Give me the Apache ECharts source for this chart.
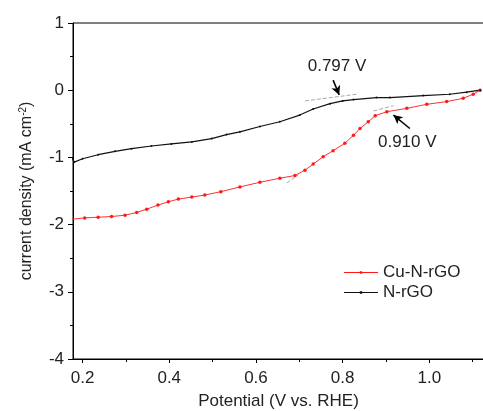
<!DOCTYPE html>
<html>
<head>
<meta charset="utf-8">
<script src="https://cdn.jsdelivr.net/npm/echarts@6/dist/echarts.min.js"></script>
<style>html,body{margin:0;padding:0;background:#fff}#c{width:483px;height:411px}</style>
</head>
<body>
<div id="c"></div>
<script>
const majorXTicks = [0.2, 0.4, 0.6, 0.8, 1.0];
const minorXTicks = [0.3, 0.5, 0.7, 0.9, 1.1];
const seriesNames = ['Cu-N-rGO', 'N-rGO'];
const cuNrGO = [
  [0.175,-1.92],[0.205,-1.90],[0.236,-1.89],[0.267,-1.88],[0.298,-1.86],[0.325,-1.82],
  [0.348,-1.77],[0.374,-1.71],[0.398,-1.66],[0.421,-1.62],[0.452,-1.59],[0.482,-1.56],
  [0.519,-1.51],[0.563,-1.44],[0.609,-1.37],[0.655,-1.31],[0.690,-1.27],[0.713,-1.19],
  [0.732,-1.10],[0.755,-0.99],[0.778,-0.90],[0.805,-0.79],[0.825,-0.67],[0.840,-0.57],
  [0.859,-0.47],[0.875,-0.38],[0.902,-0.32],[0.948,-0.27],[0.994,-0.21],[1.040,-0.17],
  [1.078,-0.12],[1.101,-0.06],[1.117,0.00]
];
const nrGO = [
  [0.175,-1.00],[0.181,-1.07],[0.200,-1.02],[0.236,-0.96],[0.275,-0.91],[0.313,-0.87],
  [0.359,-0.83],[0.405,-0.80],[0.452,-0.77],[0.498,-0.72],[0.532,-0.66],[0.563,-0.62],
  [0.609,-0.54],[0.655,-0.47],[0.701,-0.37],[0.732,-0.28],[0.771,-0.20],[0.800,-0.16],
  [0.825,-0.14],[0.878,-0.11],[0.909,-0.11],[0.986,-0.08],[1.047,-0.06],[1.086,-0.03],
  [1.117,0.00]
];
const tangents = [
  [[0.713,-0.16],[0.832,-0.06]],
  [[0.671,-1.38],[0.698,-1.26]],
  [[0.871,-0.31],[0.917,-0.23]]
];
const arrows = [
  [[0.778,0.15],[0.792,-0.07]],
  [[0.955,-0.57],[0.917,-0.37]]
];
const annotations = [
  {text:'0.797 V', at:[0.787,0.36]},
  {text:'0.910 V', at:[0.949,-0.77]}
];

const FONT = 'Liberation Sans, Arial, sans-serif';
const TXT = '#222';
const LEGEND_ICON = 'path://M0,4.4 h34 v1.2 h-34 Z M15.8,3.8 h2.4 v2.4 h-2.4 Z';
const chart = echarts.init(document.getElementById('c'));
chart.setOption({
  animation:false,
  backgroundColor:'#fff',
  textStyle:{fontFamily:FONT},
  grid:{left:73, top:23, right:-1, bottom:52, show:true, borderColor:'#000', borderWidth:1,
        containLabel:false, outerBoundsMode:'none'},
  legend:{
    left:344, top:264, padding:0, orient:'vertical', itemWidth:34, itemHeight:10, itemGap:3,
    textStyle:{fontFamily:FONT, fontSize:17, color:TXT},
    data:seriesNames.map(n=>({name:n, icon:LEGEND_ICON}))
  },
  xAxis:[{
    type:'value', min:0.178, max:1.126, position:'bottom',
    axisLine:{show:true, onZero:false, lineStyle:{color:'#000', width:1}},
    axisTick:{show:true, length:4, lineStyle:{color:'#000'}, customValues:majorXTicks},
    axisLabel:{customValues:majorXTicks, formatter:v=>v.toFixed(1), fontSize:17, color:TXT, margin:11, fontFamily:FONT},
    splitLine:{show:false},
    name:'Potential (V vs. RHE)', nameLocation:'middle', nameGap:34,
    nameTextStyle:{fontSize:17, color:TXT, fontFamily:FONT}
  },{
    type:'value', min:0.178, max:1.126, position:'bottom', offset:0,
    axisLine:{show:false, onZero:false},
    axisTick:{show:true, length:3, lineStyle:{color:'#000'}, customValues:minorXTicks},
    axisLabel:{show:false},
    splitLine:{show:false}
  }],
  yAxis:{
    type:'value', min:-4, max:1, interval:1,
    axisLine:{show:true, onZero:false, lineStyle:{color:'#000', width:1}},
    axisTick:{show:true, length:5, lineStyle:{color:'#000'}},
    minorTick:{show:true, splitNumber:2, length:3, lineStyle:{color:'#000'}},
    axisLabel:{fontSize:17, color:TXT, margin:9, fontFamily:FONT},
    splitLine:{show:false},
    name:'current density (mA cm{sup|-2})', nameLocation:'middle', nameRotate:90, nameGap:37,
    nameTextStyle:{fontSize:16, color:TXT, fontFamily:FONT,
      rich:{sup:{fontSize:10, verticalAlign:'top', padding:[0,0,8,0], color:TXT, fontFamily:FONT}}}
  },
  series:[{
    name:seriesNames[0], type:'line', data:cuNrGO,
    symbol:'circle', symbolSize:3.5, showAllSymbol:true,
    itemStyle:{color:'#ff1a1a'}, lineStyle:{color:'#ff3030', width:1},
    markLine:{
      silent:true, symbol:['none','none'], label:{show:false},
      lineStyle:{color:'#aaa', type:'dashed', width:1},
      data:tangents.map(t=>[{coord:t[0]},{coord:t[1]}])
    }
  },{
    name:seriesNames[1], type:'line', data:nrGO,
    symbol:'circle', symbolSize:2, showAllSymbol:true,
    itemStyle:{color:'#111'}, lineStyle:{color:'#111', width:1.2},
    markLine:{
      silent:true, symbol:['none','arrow'], symbolSize:[7,9], label:{show:false},
      lineStyle:{color:'#000', type:'solid', width:1.5},
      data:arrows.map(a=>[{coord:a[0]},{coord:a[1]}])
    },
    markPoint:{
      silent:true, symbol:'circle', symbolSize:1, itemStyle:{color:'transparent'},
      label:{show:true, position:'inside', fontSize:17, color:TXT, fontFamily:FONT, formatter:p=>p.name},
      data:annotations.map(a=>({name:a.text, coord:a.at}))
    }
  }]
});
</script>
</body>
</html>
